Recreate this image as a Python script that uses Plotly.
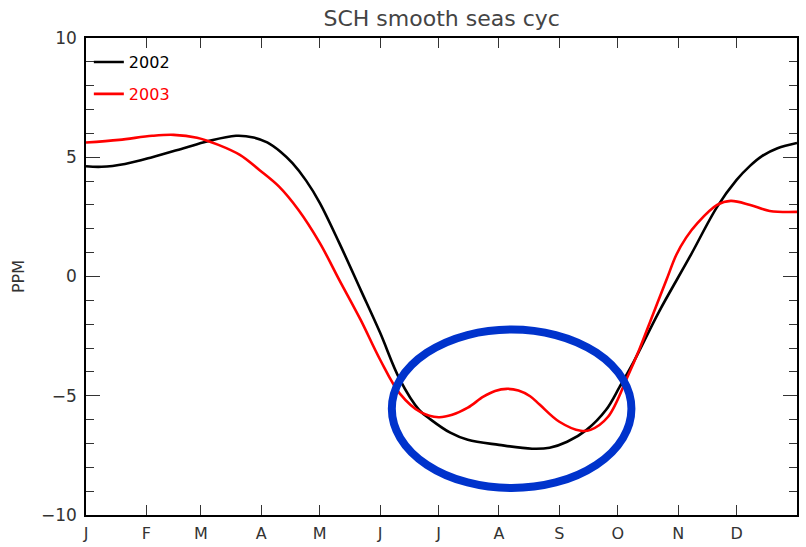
import plotly.graph_objects as go

# Day of year (0 = 1 Jan) and PPM values
days_2002 = [0, 8, 20, 34, 51, 62, 77, 86, 93, 100, 106, 113, 120, 130, 141, 151, 161,
             171, 177, 187, 196, 212, 229, 238, 247, 257, 267, 274, 281, 294, 310,
             324, 334, 341, 347, 355, 365]
ppm_2002 = [4.62, 4.60, 4.72, 5.00, 5.40, 5.66, 5.90, 5.83, 5.62, 5.22, 4.75, 4.02, 3.09,
            1.41, -0.56, -2.36, -4.30, -5.59, -6.00, -6.55, -6.85, -7.06, -7.22,
            -7.18, -6.93, -6.43, -5.59, -4.62, -3.60, -1.50, 0.83, 2.92, 4.05, 4.65,
            5.05, 5.38, 5.60]

days_2003 = [0, 17, 34, 45, 57, 68, 79, 89, 99, 109, 120, 130, 141, 151, 161, 172,
             181, 188, 196, 204, 210, 216, 222, 228, 233, 243, 254, 259, 268, 278,
             284, 291, 298, 303, 308, 314, 324, 331, 341, 351, 365]
ppm_2003 = [5.62, 5.73, 5.90, 5.94, 5.82, 5.52, 5.10, 4.47, 3.78, 2.80, 1.41, -0.14,
            -1.82, -3.49, -4.90, -5.70, -5.90, -5.80, -5.50, -5.04, -4.80, -4.71,
            -4.78, -5.02, -5.38, -6.09, -6.47, -6.43, -5.88, -4.20, -3.07, -1.60,
            -0.14, 0.90, 1.62, 2.25, 3.00, 3.17, 3.00, 2.75, 2.71]

month_starts = [0, 31, 59, 90, 120, 151, 181, 212, 243, 273, 304, 334]
month_labels = ["J", "F", "M", "A", "M", "J", "J", "A", "S", "O", "N", "D"]

# highlighted region (days, PPM)
ellipse_days = [157, 280]
ellipse_ppm = [-8.87, -2.22]

fig = go.Figure()
fig.add_trace(go.Scatter(x=days_2002, y=ppm_2002, mode="lines",
                         name='<span style="color:black">2002</span>',
                         legendgroup="a",
                         line=dict(color="black", width=2.6, shape="spline", smoothing=1.0)))
fig.add_trace(go.Scatter(x=days_2003, y=ppm_2003, mode="lines",
                         name='<span style="color:red">2003</span>',
                         legendgroup="b",
                         line=dict(color="#ff0000", width=2.6, shape="spline", smoothing=1.0)))

fig.add_shape(type="circle", xref="x", yref="y",
              x0=ellipse_days[0], x1=ellipse_days[1],
              y0=ellipse_ppm[0], y1=ellipse_ppm[1],
              line=dict(color="#0033CC", width=8))

font = "DejaVu Sans"
fig.update_layout(
    width=806, height=547,
    margin=dict(l=86, r=9, t=38, b=32, autoexpand=False),
    paper_bgcolor="white", plot_bgcolor="white",
    title=dict(text="SCH smooth seas cyc", x=0.548, xanchor="center", y=0.967,
               yanchor="middle", font=dict(family=font, size=22, color="#444")),
    showlegend=True,
    legend=dict(x=0.004, y=0.985, xanchor="left", yanchor="top",
                bgcolor="rgba(0,0,0,0)", font=dict(family=font, size=16),
                tracegroupgap=8, itemwidth=30),
    xaxis=dict(range=[0, 365], tickmode="array", tickvals=month_starts,
               ticktext=month_labels, ticks="inside", ticklen=10, tickcolor="#333",
               showline=True, linecolor="black", linewidth=1.5, mirror="ticks",
               showgrid=False, zeroline=False, ticklabelstandoff=3, automargin=False,
               tickfont=dict(family=font, size=16, color="#333")),
    yaxis=dict(range=[-10, 10], tickmode="array", tickvals=[-10, -5, 0, 5, 10],
               ticktext=["\u221210", "\u22125", "0", "5", "10"],
               ticks="inside", ticklen=14, tickcolor="#333",
               minor=dict(dtick=1, ticks="inside", ticklen=8, tickcolor="#333"),
               showline=True, linecolor="black", linewidth=1.5, mirror="ticks",
               showgrid=False, zeroline=False, ticklabelstandoff=4, automargin=False,
               tickfont=dict(family=font, size=17, color="#333"),
               title=dict(text="PPM", standoff=12,
                          font=dict(family=font, size=16, color="#333"))),
)

fig.write_html("out.html")
